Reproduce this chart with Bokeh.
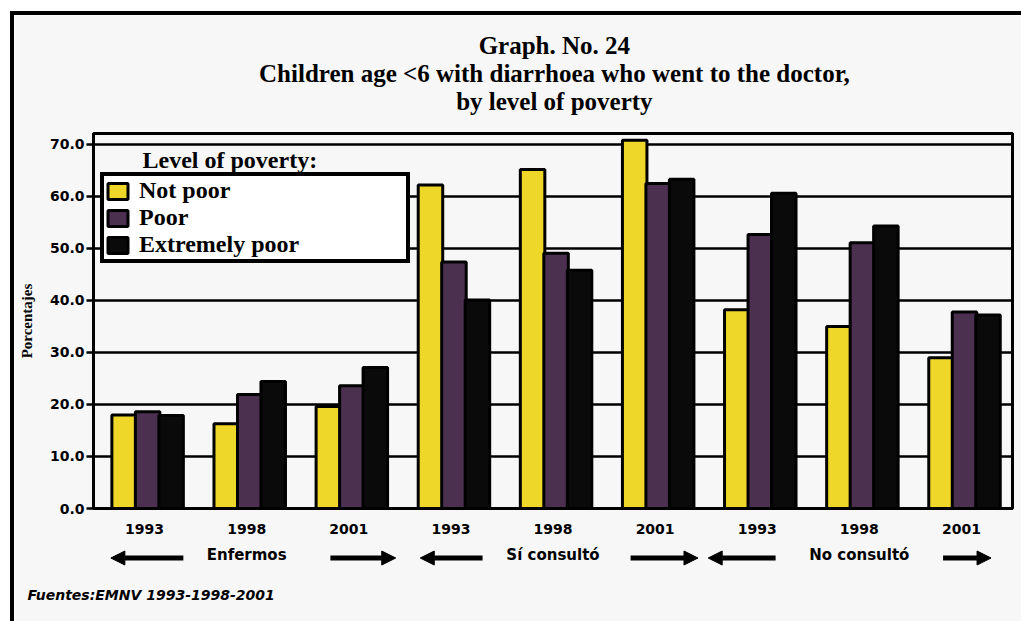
from bokeh.plotting import figure
from bokeh.layouts import column
from bokeh.models import (FactorRange, Range1d, FixedTicker, NumeralTickFormatter, Label,
                          Arrow, NormalHead, ColumnDataSource, Title)
from bokeh.transform import dodge
from bokeh.embed import file_html
from bokeh.resources import INLINE

# ---- data ----
groups = ["Enfermos", "Sí consultó", "No consultó"]
years = ["1993", "1998", "2001"]
not_poor = [18.0, 16.3, 19.6, 62.2, 65.2, 70.8, 38.2, 35.0, 29.0]
poor = [18.6, 21.9, 23.6, 47.4, 49.1, 62.5, 52.7, 51.1, 37.8]
extremely_poor = [17.9, 24.4, 27.1, 40.1, 45.8, 63.3, 60.6, 54.3, 37.2]
y_ticks = [0, 10, 20, 30, 40, 50, 60, 70]
series_names = ["Not poor", "Poor", "Extremely poor"]
title_lines = ["Graph. No. 24",
               "Children age <6 with diarrhoea who went to the doctor,",
               "by level of poverty"]
legend_title = "Level of poverty:"
source_note = "Fuentes:EMNV 1993-1998-2001"
# decorative arrows along the category axis (tail, tip) in category units
arrow_pairs = [(0.88, 0.17), (2.32, 2.96),
               (3.81, 3.20), (5.26, 5.92),
               (6.68, 6.02), (8.32, 8.79)]

factors = [(g, y) for g in groups for y in years]
src = ColumnDataSource(dict(x=factors, np_=not_poor, p_=poor, ep_=extremely_poor))

BG = "#f7f7f7"
YELLOW = "#efd72a"
PURPLE = "#4b3050"
BLACK = "#0a0a0a"

W, H = 1007, 606
TOP = 118

xr = FactorRange(factors=factors, group_padding=0, factor_padding=0, range_padding=0)
p = figure(x_range=xr, y_range=Range1d(0, 72.1),
           width=W, height=H, output_backend="svg", toolbar_location=None,
           min_border_left=79, min_border_right=9, min_border_top=TOP, min_border_bottom=112,
           background_fill_color=BG, border_fill_color=BG)

p.outline_line_color = "black"
p.outline_line_width = 3
p.outline_line_alpha = 1

# grid
p.xgrid.grid_line_color = None
p.ygrid.grid_line_color = "black"
p.ygrid.grid_line_width = 2.5
p.ygrid.grid_line_alpha = 1
p.ygrid.ticker = FixedTicker(ticks=y_ticks)

# bars
w = 0.24
p.vbar(x=dodge("x", -0.20, range=xr), top="np_", width=w, source=src,
       fill_color=YELLOW, line_color="black", line_width=3, legend_label=series_names[0])
p.vbar(x=dodge("x", 0.03, range=xr), top="p_", width=w, source=src,
       fill_color=PURPLE, line_color="black", line_width=3, legend_label=series_names[1])
p.vbar(x=dodge("x", 0.26, range=xr), top="ep_", width=w, source=src,
       fill_color=BLACK, line_color="black", line_width=3, legend_label=series_names[2])

# y axis
ya = p.yaxis[0]
ya.ticker = FixedTicker(ticks=y_ticks)
ya.formatter = NumeralTickFormatter(format="0.0")
ya.major_label_text_font = "DejaVu Sans"
ya.major_label_text_font_style = "bold"
ya.major_label_text_font_size = "14px"
ya.major_label_text_color = "black"
ya.major_label_standoff = 2
ya.major_tick_out = 7
ya.major_tick_in = 0
ya.major_tick_line_width = 2.5
ya.minor_tick_line_color = None
ya.axis_line_width = 3
ya.axis_label = "Porcentajes"
ya.axis_label_text_font = "Liberation Serif"
ya.axis_label_text_font_style = "bold"
ya.axis_label_text_font_size = "15px"
ya.axis_label_text_color = "black"
ya.axis_label_standoff = 12

# x axis
xa = p.xaxis[0]
xa.major_label_text_font = "DejaVu Sans"
xa.major_label_text_font_style = "bold"
xa.major_label_text_font_size = "14px"
xa.major_label_text_color = "black"
xa.group_text_font = "DejaVu Sans"
xa.group_text_font_style = "bold"
xa.group_text_font_size = "15px"
xa.group_text_color = "black"
xa.major_tick_line_color = None
xa.axis_line_width = 3
xa.major_label_standoff = 9
xa.separator_line_color = None

# legend
lg = p.legend[0]
lg.location = (7, 245)
lg.border_line_color = "black"
lg.border_line_width = 4
lg.border_line_alpha = 1
lg.background_fill_color = "white"
lg.background_fill_alpha = 1
lg.label_text_font = "Liberation Serif"
lg.label_text_font_style = "bold"
lg.label_text_font_size = "24px"
lg.label_text_color = "black"
lg.glyph_width = 25
lg.glyph_height = 20
lg.label_height = 20
lg.spacing = 0
lg.padding = 1
lg.margin = 0
lg.label_standoff = 9
lg.label_width = 266

p.add_layout(Label(x=0.48, y=69.5, text=legend_title,
                   text_font="Liberation Serif", text_font_style="bold",
                   text_font_size="24px", text_color="black", text_baseline="top"))

# source note
p.add_layout(Title(text=source_note, align="left", offset=-66, text_font="DejaVu Sans",
                   text_font_style="bold italic", text_font_size="14px", text_color="black",
                   standoff=37), "below")

# transparent overlay over the top margin holding the three centred title lines
p0 = figure(x_range=Range1d(0, W), y_range=Range1d(TOP, 0), width=W, height=TOP,
            x_axis_type=None, y_axis_type=None, output_backend="svg", toolbar_location=None,
            min_border=0, background_fill_alpha=0, border_fill_alpha=0)
p0.outline_line_color = None
p0.grid.visible = False
title_cx = 505
for i, t in enumerate(title_lines):
    p0.add_layout(Label(x=title_cx, y=16 + 28 * i, text=t, text_align="center",
                        text_baseline="top", text_font="Liberation Serif",
                        text_font_style="bold", text_font_size="25px", text_color="black"))
p0.styles = {"margin-top": f"-{H}px"}

# transparent overlay strip (same x scale) holding the group arrows
H2 = 81
p2 = figure(x_range=xr, y_range=Range1d(0, 35), width=W, height=H2,
            x_axis_type=None, y_axis_type=None,
            output_backend="svg", toolbar_location=None,
            min_border_left=79, min_border_right=9, min_border_top=0, min_border_bottom=46,
            background_fill_alpha=0, border_fill_alpha=0)
p2.outline_line_color = None
p2.grid.visible = False
p2.styles = {"margin-top": f"{H - TOP - H2}px"}
arrow_y = 17.5
for tail, tip in arrow_pairs:
    p2.add_layout(Arrow(x_start=tail, y_start=arrow_y, x_end=tip, y_end=arrow_y,
                        line_width=5, line_color="black",
                        end=NormalHead(size=14, fill_color="black", line_color="black", line_width=1)))

layout = column(p, p0, p2, spacing=0)
layout.styles = {"outline": "4px solid black", "margin-left": "14px", "margin-top": "15px"}

open("out.html", "w").write(file_html(layout, INLINE))
